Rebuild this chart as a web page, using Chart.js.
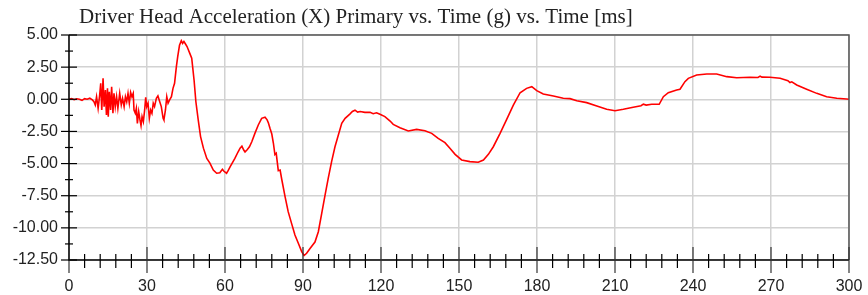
<!DOCTYPE html>
<html>
<head>
<meta charset="utf-8">
<script src="https://cdn.jsdelivr.net/npm/chart.js@4/dist/chart.umd.min.js"></script>
<style>
  html, body { margin: 0; padding: 0; background: #ffffff; }
  #wrap { width: 868px; height: 295px; position: relative; }
</style>
</head>
<body>
<div id="wrap"><canvas id="accelChart"></canvas></div>
<script>
let chartTitle = 'Driver Head Acceleration (X) Primary vs. Time (g) vs. Time [ms]';

let timeMs = [
    0, 1, 2, 3, 4, 5, 6, 7, 8, 9,
    9.6, 10.1, 10.6, 11.2, 11.8, 12.2, 12.6, 13.1, 13.5, 14.0,
    14.4, 14.8, 15.1, 15.5, 16.0, 16.4, 16.9, 17.3, 17.8, 18.3,
    18.8, 19.5, 20.1, 20.6, 21.2, 21.7, 22.2, 22.7, 23.2, 23.7,
    24.2, 24.7, 25.0, 25.5, 25.9, 26.3, 26.8, 27.3, 27.7, 28.1,
    28.6, 29.1, 29.5, 29.9, 30.4, 30.9, 31.4, 31.9, 32.4, 32.9,
    33.6, 34.2, 34.9, 35.5, 36.2, 36.5, 37.1, 37.6, 38.1, 38.7,
    39.4, 40.0, 40.6, 41.3, 41.8, 42.5, 43.2, 43.7, 44.2, 44.8,
    45.4, 45.9, 46.5, 47.2, 48.1, 48.8, 49.7, 50.6, 51.7, 53.0,
    54.2, 55.5, 56.8, 58.0, 59.0, 59.6, 60.6, 61.2, 62.0, 63.8,
    65.0, 65.8, 66.5, 67.2, 67.7, 68.6, 69.4, 70.3, 71.5, 72.8,
    74.1, 75.4, 76.2, 76.7, 77.3, 78.0, 78.6, 79.2, 79.7, 80.5,
    81.2, 81.8, 83.1, 84.3, 85.6, 86.9, 88.2, 89.5, 90.4, 91.4,
    92.7, 94.6, 95.9, 97.2, 98.5, 99.7, 101.0, 102.3, 103.6, 104.9,
    106.2, 108.0, 109.0, 110.0, 111.0, 112.0, 113.8, 115.8, 117.0, 118.3,
    119.6, 121.5, 123.5, 124.7, 127.3, 130.5, 133.7, 136.9, 139.5, 142.0,
    144.6, 146.5, 148.5, 151.0, 154.2, 157.4, 159.4, 161.3, 163.2, 165.8,
    168.3, 170.9, 173.5, 176.0, 178.0, 179.9, 182.4, 186.3, 190.1, 192.7,
    195.3, 199.1, 203.0, 206.8, 210.0, 213.2, 217.0, 220.0, 220.9, 222.0,
    224.1, 227.0, 228.6, 230.5, 233.7, 235.0, 236.9, 238.2, 241.4, 245.3,
    249.1, 253.0, 256.8, 261.9, 265.0, 265.8, 266.5, 269.6, 273.5, 276.5,
    277.3, 278.0, 279.9, 283.7, 287.6, 291.4, 295.3, 299.1, 300
];

let accelG = [
    0.0, 0.05, -0.03, 0.04, 0.0, -0.08, 0.05, 0.0, 0.08, -0.05,
    -0.19, -0.44, 0.2, -0.7, 0.33, 1.24, -0.83, 1.63, -0.57, 0.72,
    -1.22, 0.85, -1.35, 0.59, -0.83, 0.98, -1.09, 0.46, -0.57, 0.2,
    -0.7, 0.46, -0.44, 0.07, -0.57, 0.2, -0.19, 0.46, -0.31, 0.54,
    0.2, 0.46, -0.83, -1.09, -0.7, -1.87, -0.96, -1.61, -2.05, -1.35,
    -1.74, -0.83, 0.15, -0.57, -0.31, -1.48, -0.83, -1.09, -0.31, -0.57,
    0.07, 0.26, -0.19, -0.57, -1.48, -1.61, -0.83, 0.2, -0.31, -0.05,
    0.2, 0.85, 1.24, 2.54, 3.3, 4.2, 4.55, 4.35, 4.5, 4.3,
    4.1, 3.85, 3.55, 3.19, 1.5, -0.19, -1.6, -2.9, -3.8, -4.6,
    -4.96, -5.5, -5.75, -5.72, -5.45, -5.6, -5.75, -5.55, -5.24, -4.6,
    -4.1, -3.8, -3.65, -3.95, -4.1, -3.9, -3.7, -3.3, -2.65, -2.0,
    -1.48, -1.4, -1.6, -1.85, -2.26, -2.7, -3.4, -4.3, -4.2, -5.55,
    -5.5, -6.2, -7.57, -8.74, -9.65, -10.56, -11.2, -11.85, -12.15, -11.98,
    -11.6, -11.1, -10.3, -8.87, -7.44, -6.15, -4.85, -3.69, -2.78, -1.87,
    -1.48, -1.15, -0.95, -0.85, -1.0, -0.95, -1.02, -1.01, -1.12, -1.05,
    -1.17, -1.35, -1.69, -1.95, -2.21, -2.47, -2.34, -2.44, -2.65, -3.04,
    -3.37, -3.81, -4.28, -4.72, -4.85, -4.9, -4.72, -4.28, -3.69, -2.65,
    -1.58, -0.45, 0.51, 0.85, 0.98, 0.67, 0.41, 0.26, 0.08, 0.05,
    -0.11, -0.26, -0.52, -0.78, -0.89, -0.78, -0.62, -0.5, -0.38, -0.45,
    -0.39, -0.39, 0.2, 0.51, 0.72, 0.78, 1.37, 1.63, 1.89, 1.97,
    1.97, 1.76, 1.68, 1.71, 1.7, 1.8, 1.72, 1.71, 1.63, 1.45,
    1.3, 1.36, 1.11, 0.78, 0.46, 0.2, 0.08, 0.02, 0.0
];

let xMin = 0, xMax = 300, xStep = 30, xMinorStep = 6;
let yMin = -12.5, yMax = 5, yStep = 2.5, yMinorStep = 1.25;

// axes, borders and minor ticks are drawn by hand on top of the plot
let axisFrame = {
    id: 'axisFrame',
    afterDraw(chart) {
        let ctx = chart.ctx;
        let a = chart.chartArea;
        let xs = chart.scales.x;
        let ys = chart.scales.y;
        ctx.save();

        // top and right border
        ctx.strokeStyle = '#555555';
        ctx.lineWidth = 1.5;
        ctx.beginPath();
        ctx.moveTo(a.left, a.top);
        ctx.lineTo(a.right, a.top);
        ctx.lineTo(a.right, a.bottom);
        ctx.stroke();

        ctx.strokeStyle = '#000000';
        ctx.lineWidth = 1.5;
        ctx.beginPath();
        ctx.moveTo(a.left, a.top);
        ctx.lineTo(a.left, a.bottom);
        ctx.lineTo(a.right, a.bottom);
        ctx.stroke();

        ctx.lineWidth = 1.2;
        for (let v = xMin; v <= xMax + 0.001; v += xMinorStep) {
            let px = xs.getPixelForValue(v);
            let major = Math.abs(v / xStep - Math.round(v / xStep)) < 0.001;
            ctx.strokeStyle = major ? '#333333' : '#000000';
            ctx.beginPath();
            ctx.moveTo(px, a.bottom - (major ? 13 : 6));
            ctx.lineTo(px, a.bottom + (major ? 13 : 8));
            ctx.stroke();
        }
        for (let v = yMin; v <= yMax + 0.001; v += yMinorStep) {
            let py = ys.getPixelForValue(v);
            let major = Math.abs(v / yStep - Math.round(v / yStep)) < 0.001;
            ctx.strokeStyle = '#000000';
            ctx.beginPath();
            ctx.moveTo(a.left - (major ? 8 : 4), py);
            ctx.lineTo(a.left + (major ? 8 : 4), py);
            ctx.stroke();
        }

        ctx.fillStyle = '#222222';
        ctx.font = '21px "Liberation Serif"';
        ctx.textAlign = 'left';
        ctx.textBaseline = 'alphabetic';
        ctx.fillText(chartTitle, a.left + 10, 23);
        ctx.restore();
    }
};

function createAccelChart() {
    let points = [];
    for (let i = 0; i < timeMs.length; i++) {
        points.push({ x: timeMs[i], y: accelG[i] });
    }

    let ctx = document.getElementById('accelChart').getContext('2d');

    new Chart(ctx, {
        type: 'line',
        data: {
            datasets: [{
                data: points,
                borderColor: '#ff0000',
                borderWidth: 1.6,
                pointRadius: 0,
                tension: 0,
                fill: false
            }]
        },
        options: {
            responsive: true,
            maintainAspectRatio: false,
            animation: false,
            layout: { padding: { top: 35, right: 19, left: 0, bottom: 0 } },
            plugins: {
                legend: { display: false },
                title: { display: false },
                tooltip: { enabled: false }
            },
            scales: {
                x: {
                    type: 'linear',
                    min: xMin,
                    max: xMax,
                    afterFit: function (scale) {
                        scale.height = 35;
                        scale.paddingLeft = 0;
                        scale.paddingRight = 0;
                    },
                    ticks: {
                        stepSize: xStep,
                        padding: 17,
                        color: '#222222',
                        font: { family: '"Liberation Sans"', size: 16 }
                    },
                    grid: { color: '#d2d2d2', lineWidth: 1.5, drawTicks: false },
                    border: { display: false }
                },
                y: {
                    min: yMin,
                    max: yMax,
                    afterFit: function (scale) {
                        scale.width = 69;
                        scale.paddingTop = 0;
                        scale.paddingBottom = 0;
                    },
                    ticks: {
                        stepSize: yStep,
                        padding: 11,
                        color: '#222222',
                        font: { family: '"Liberation Sans"', size: 16 },
                        callback: function (v) { return Number(v).toFixed(2); }
                    },
                    grid: { color: '#d2d2d2', lineWidth: 1.5, drawTicks: false },
                    border: { display: false }
                }
            }
        },
        plugins: [axisFrame]
    });
}

createAccelChart();
</script>
</body>
</html>
